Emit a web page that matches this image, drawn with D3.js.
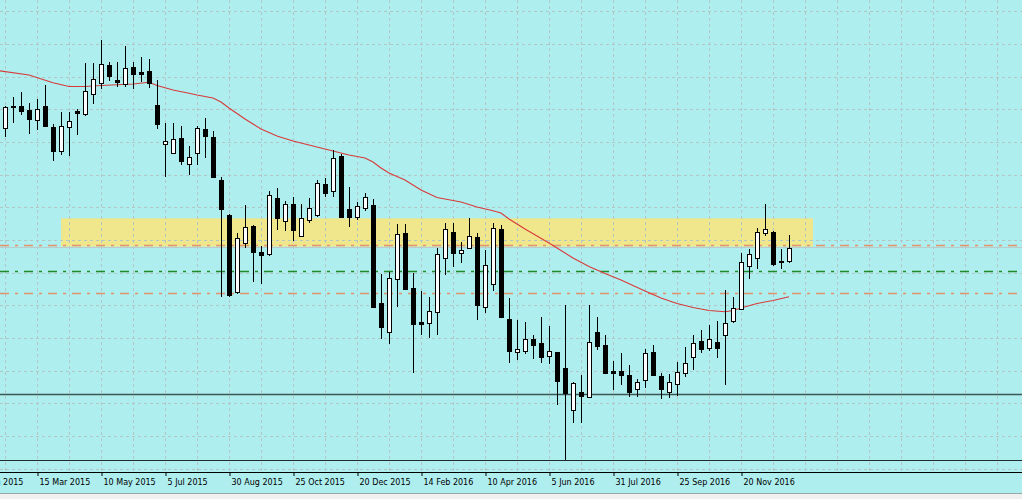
<!DOCTYPE html>
<html>
<head>
<meta charset="utf-8">
<script src="https://cdn.jsdelivr.net/npm/d3@7"></script>
<style>
  body { margin: 0; background: #f0f0f0; }
  svg { display: block; }
</style>
</head>
<body>
<div id="chart"></div>
<script>
// weekly bars, bar 0 = week of 15 Feb 2015
const opens = [472,493.7,494,490,480,494,473.3,449.3,473.7,489.3, 485.3,505.7,516.7,534.7,520,515.7,532.7,527.7,528.7,495,
  456.3,446.3,462.3,436.3,447.3,470.7,463.3,420,385,307.3, 357.3,374,347.7,346,401.7,379,396,364,380,385,
  416,408.3,444,391,383.3,392.7,395,296.7,267.7,320.7, 366.7,312.3,278.3,277.3,287.7,341.7,368.3,346.7,352.3,362.7,
  292.7,316.7,370.7,281,247.7,248.3,260.7,256.7,244,247.7, 231.7,189.3,207.7,203.3,268.3,255,229,229,225,210.7,
  220,247.7,224,207.7,216,226.7,243.3,259.3,251.7,258.3, 265,278.3,291,334,341.7,367.3,367.7,339.3,339.3];
const highs = [494,503.3,508,497.3,501,515,475.7,488.3,487.7,490.7, 536.7,536.7,559.7,538.3,537.7,553.7,538.3,542.7,540.7,520,
  477.3,477.3,474.3,453.7,473.7,482.3,468.7,422.7,386,367.3, 395,375,354,409,412.3,399.3,402.7,396,401.7,420,
  421.7,450,445.7,412.7,398.3,407.3,400.7,326,328.3,375.7, 375.7,326.7,309.3,303.3,351.7,376.7,376.7,358.3,381.7,366.7,
  350,376.7,375,301.7,280,278.3,265,282.7,274,248.3, 295,218.3,225,295,283.3,265,239,246.7,235,220.7,
  250.7,255,226.7,225.7,238.3,253.3,265,270,275,279.3, 310,303.3,347.3,351,371.7,395.7,369,351,365];
const lows = [462.7,476.7,485.3,465.7,469.7,473.7,439.3,445.3,444,464.7, 484.3,496.3,511.3,519.3,513.3,513.3,511.3,518.3,512.3,471,
  422.7,446.3,435,425.3,435,442.3,423.3,303,303.3,306, 351.7,318.3,315.7,344.3,370,369,359.3,362.7,376.7,382.7,
  403.3,403.3,382.7,372.7,380,389.3,291.7,261,255.7,292.7, 310,227.3,265,262.3,265,325,333.3,337.3,350.7,280,
  286.7,309.3,281.7,237.3,240,245.7,240.7,236.7,235.7,195, 140,177.3,177.3,201.7,250,226.7,210,215,203.3,202.7,
  212.3,224,201,201.7,204,223.3,230,247.3,249.3,242.3, 215,276.7,290,321,330.7,364,334,331,336.7];
const closes = [492.7,494,489.3,480.7,491,473.7,449.3,474.3,479.3,487, 508.7,520.7,535.7,523.3,518,531.7,525.3,525.3,516.7,476,
  459.3,460.7,439.3,443.3,472.3,464,423.3,391,305,361.7, 373.3,348.3,344.3,405,381.7,396,370,382.3,392.3,416.7,
  407.3,441.7,383.3,383.3,394,403.3,292.7,272.7,321.7,365.7, 310.7,276,276,289.3,346,370.7,347.7,350,364,295,
  335,372.3,282.7,249.3,250.7,260.7,254.3,242.7,249.3,218.3, 206.7,216.7,203.3,258.3,254.3,227.3,226.7,225,207.7,217.7,
  246.7,225,210.7,217.7,227.7,236.7,257.3,251.7,260.7,252.7, 276.7,291.7,337.7,345.7,367.7,371,336,338.3,352.3];

// moving average read at some bars
const maIdx = [-1,3,6,8,10,12,16,18,19,21,23,24,26,27,28,29,30,31,32,34,36,38,40,41,43,45,46,47,48,50,
  52,54,57,59,61,62,63,65,68,71,73,75,77,80,82,84,86,88,90,91,92,94,96,98];
const maVals = [529.5,525,517.3,513.5,513.5,514.5,516,517.7,514.5,510,506.7,505,502,498,492,486.5,481,476,471,464,
  459,455,451,449,445,442,438,432,427,420,410,402.5,398,393,389.3,387,381,371,357,342,
  333.5,326.5,320,309,302,296.5,292.5,289.5,288.3,289.5,292,296.5,299.5,303.3];

const tickIdx = [-4,4,12,20,28,36,44,52,60,68,76,84,92];
const tickLabels = ["18 Jan 2015","15 Mar 2015","10 May 2015","5 Jul 2015","30 Aug 2015","25 Oct 2015",
  "20 Dec 2015","14 Feb 2016","10 Apr 2016","5 Jun 2016","31 Jul 2016","25 Sep 2016","20 Nov 2016"];

const gridPrices = [131.3,164,196.7,229.3,262,294.7,327.3,360,392.7,425.3,458,490.7,523.3,556,588.7];

const zone = {from: 7, to: 101, top: 381.7, bottom: 353.5};
const upperLevel = 355, midLevel = 329, lowerLevel = 307.3;
const supportLevel = 206, lowLevel = 140, zoneEdge = 353;

const width = 1022, height = 499;
const plotBottom = 472;
const axisBottom = 493;

const svg = d3.select("#chart")
    .append("svg")
    .attr("width", width)
    .attr("height", height);

svg.append("rect").attr("width", width).attr("height", height).attr("fill", "#f0f0f0");
svg.append("rect").attr("width", width).attr("height", axisBottom).attr("fill", "#afeeee");
svg.append("line")
    .attr("x1", 0).attr("x2", width)
    .attr("y1", axisBottom + 0.5).attr("y2", axisBottom + 0.5)
    .attr("stroke", "#9aa6a6");

const xScale = d3.scaleLinear().domain([0, 127]).range([5, 1021]);
const yScale = d3.scaleLinear().domain([600 - plotBottom, 600]).range([plotBottom, 0]);
const px = v => Math.round(v) + 0.5;

svg.append("clipPath").attr("id", "plot-clip")
    .append("rect").attr("width", width).attr("height", plotBottom);

const plot = svg.append("g").attr("clip-path", "url(#plot-clip)");

// yellow zone
plot.append("rect")
    .attr("x", xScale(zone.from))
    .attr("y", yScale(zone.top))
    .attr("width", xScale(zone.to) - xScale(zone.from))
    .attr("height", yScale(zone.bottom) - yScale(zone.top))
    .attr("fill", "#f0e68c");

// grid
plot.append("g")
    .selectAll("line")
    .data(d3.range(0, 128, 4))
    .join("line")
    .attr("x1", d => px(xScale(d))).attr("x2", d => px(xScale(d)))
    .attr("y1", 0).attr("y2", plotBottom)
    .attr("stroke", "#b2c6c6")
    .attr("stroke-dasharray", "3,3");

plot.append("g")
    .selectAll("line")
    .data(gridPrices)
    .join("line")
    .attr("x1", 0).attr("x2", width)
    .attr("y1", d => px(yScale(d))).attr("y2", d => px(yScale(d)))
    .attr("stroke", "#b2c6c6")
    .attr("stroke-dasharray", "3,3");

// horizontal levels
const hline = (price, color, w, dash) => {
    plot.append("line")
        .attr("x1", 0).attr("x2", width)
        .attr("y1", px(yScale(price))).attr("y2", px(yScale(price)))
        .attr("stroke", color)
        .attr("stroke-width", w)
        .attr("stroke-dasharray", dash);
};
hline(zoneEdge, "#bccaca", 1, null);
hline(upperLevel, "#e0936c", 1.4, "9,6,3,6");
hline(midLevel, "#1f8a2a", 1.3, "9,6,3,6");
hline(lowerLevel, "#e0936c", 1.4, "9,6,3,6");
hline(supportLevel, "#3c5656", 1.6, null);
hline(lowLevel, "#1e2d2d", 1.2, null);

// moving average
const maLine = d3.line()
    .x((d, i) => xScale(maIdx[i]))
    .y(d => yScale(d));

plot.append("path")
    .datum(maVals)
    .attr("fill", "none")
    .attr("stroke", "#d83a3a")
    .attr("stroke-width", 1.1)
    .attr("d", maLine);

// candles
const bars = d3.range(opens.length);

plot.append("g")
    .selectAll("line")
    .data(bars)
    .join("line")
    .attr("x1", i => px(xScale(i))).attr("x2", i => px(xScale(i)))
    .attr("y1", i => Math.round(yScale(highs[i])))
    .attr("y2", i => Math.round(yScale(lows[i])))
    .attr("stroke", "#000")
    .attr("shape-rendering", "crispEdges");

plot.append("g")
    .selectAll("rect")
    .data(bars)
    .join("rect")
    .attr("x", i => Math.round(xScale(i)) - 1.5)
    .attr("y", i => Math.round(yScale(Math.max(opens[i], closes[i]))) + 0.5)
    .attr("width", 4)
    .attr("height", i => Math.max(1, Math.round(Math.abs(yScale(opens[i]) - yScale(closes[i])))))
    .attr("fill", i => closes[i] >= opens[i] ? "#fff" : "#000")
    .attr("stroke", "#000")
    .attr("shape-rendering", "crispEdges");

// time axis
const xAxis = d3.axisBottom(xScale)
    .tickValues(tickIdx)
    .tickFormat((d, i) => tickLabels[i])
    .tickSize(4)
    .tickSizeOuter(0);

const axisG = svg.append("g")
    .attr("transform", `translate(0,${plotBottom})`)
    .call(xAxis);

axisG.select(".domain").remove();
axisG.selectAll(".tick line")
    .attr("stroke", "#000")
    .attr("transform", "translate(0.5,0)");
axisG.selectAll(".tick text")
    .attr("text-anchor", "start")
    .attr("x", 2)
    .attr("y", 7)
    .attr("fill", "#000")
    .style("font-family", "'DejaVu Sans', sans-serif")
    .style("font-size", "8px");

svg.append("line")
    .attr("x1", 0).attr("x2", width)
    .attr("y1", plotBottom + 0.5).attr("y2", plotBottom + 0.5)
    .attr("stroke", "#000");
</script>
</body>
</html>
